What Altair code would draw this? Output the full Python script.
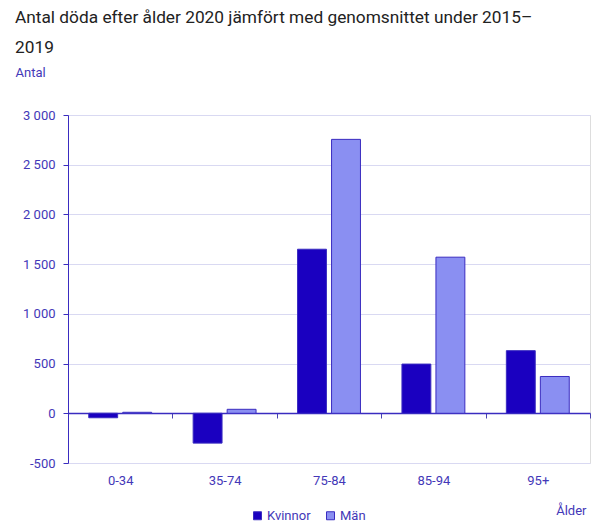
import altair as alt
import pandas as pd

# Age groups and excess deaths (2020 vs. 2015–2019 average)
age_groups = ["0-34", "35-74", "75-84", "85-94", "95+"]
kvinnor = [-45, -300, 1650, 495, 630]
man = [10, 40, 2755, 1570, 370]
series = ["Kvinnor", "Män"]

rows = []
for i, g in enumerate(age_groups):
    rows.append({"Ålder": g, "Kön": series[0], "Antal": kvinnor[i]})
    rows.append({"Ålder": g, "Kön": series[1], "Antal": man[i]})
df = pd.DataFrame(rows)

BLUE_TEXT = "#4338b8"
GRID = "#d9d9f2"
FONT = "Roboto"

bars = alt.Chart(df).mark_bar(stroke="#3a2cc0", strokeWidth=1).encode(
    x=alt.X(
        "Ålder:N",
        sort=age_groups,
        scale=alt.Scale(paddingInner=0, paddingOuter=0),
        axis=alt.Axis(
            title="Ålder",
            titleX=518,
            titleY=91,
            titleAlign="right",
            titleAngle=0,
            titleFontWeight="normal",
            titleFontSize=13,
            titleColor=BLUE_TEXT,
            titleFont=FONT,
            labelAngle=0,
            labelFont=FONT,
            labelFontSize=13,
            labelColor=BLUE_TEXT,
            labelPadding=56,
            tickBand="extent",
            tickSize=5,
            tickColor="#4a44b0",
            domainColor="#3a2cc0",
            domainWidth=1.5,
            offset=-50,
            grid=False,
        ),
    ),
    xOffset=alt.XOffset(
        "Kön:N",
        sort=series,
        scale=alt.Scale(paddingInner=0.15, paddingOuter=0.61),
    ),
    y=alt.Y(
        "Antal:Q",
        scale=alt.Scale(domain=[-500, 3000], nice=False),
        axis=alt.Axis(
            title="Antal",
            titleAngle=0,
            titleX=-53,
            titleY=-43,
            titleAlign="left",
            titleBaseline="middle",
            titleFontWeight="normal",
            titleFontSize=13,
            titleColor=BLUE_TEXT,
            titleFont=FONT,
            values=[-500, 0, 500, 1000, 1500, 2000, 2500, 3000],
            labelExpr="replace(replace(format(datum.value, ','), ',', ' '), '−', '-')",
            labelFont=FONT,
            labelFontSize=13,
            labelColor=BLUE_TEXT,
            labelPadding=8,
            tickSize=5,
            tickColor="#3a2cc0",
            domainColor="#3a2cc0",
            gridColor=GRID,
        ),
    ),
    color=alt.Color(
        "Kön:N",
        sort=series,
        scale=alt.Scale(domain=series, range=["#1a00c0", "#8a8ff2"]),
        legend=alt.Legend(
            title=None,
            orient="none",
            legendX=183,
            legendY=394,
            direction="horizontal",
            symbolType="square",
            symbolSize=64,
            symbolStrokeWidth=1,
            symbolStrokeColor="#3a2cc0",
            labelFont=FONT,
            labelFontSize=13,
            labelColor=BLUE_TEXT,
            labelOffset=3,
            columnPadding=13,
        ),
    ),
)

chart = bars.properties(
    width=522,
    height=348,
    padding={"left": 68, "top": 115, "right": 25, "bottom": 66},
    autosize=alt.AutoSizeParams(type="none"),
    title=alt.TitleParams(
        text=["Antal döda efter ålder 2020 jämfört med genomsnittet under 2015–", "2019"],
        anchor="start",
        frame="group",
        font=FONT,
        fontSize=17.3,
        fontWeight="normal",
        color="#222222",
        lineHeight=30,
        dx=-53,
        offset=10,
    ),
).configure_view(stroke=None).configure(background="white")

chart.save("out.html", embed_options={"renderer": "svg", "actions": False})
